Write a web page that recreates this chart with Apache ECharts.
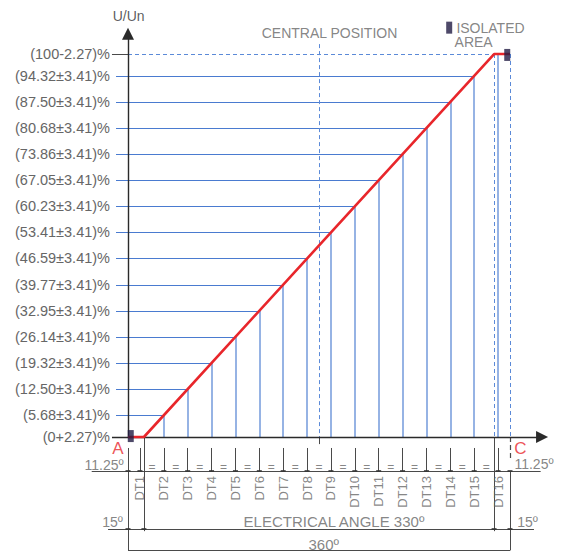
<!DOCTYPE html>
<html>
<head>
<meta charset="utf-8">
<script src="https://cdn.jsdelivr.net/npm/echarts@6/dist/echarts.min.js"></script>
<style>html,body{margin:0;padding:0;background:#fff}#c{width:568px;height:553px}</style>
</head>
<body>
<div id="c"></div>
<script>
// ---- data ----
const tapNames = ['DT1','DT2','DT3','DT4','DT5','DT6','DT7','DT8','DT9','DT10','DT11','DT12','DT13','DT14','DT15','DT16'];
const tapLabels = ['(0+2.27)%','(5.68\u00B13.41)%','(12.50\u00B13.41)%','(19.32\u00B13.41)%','(26.14\u00B13.41)%','(32.95\u00B13.41)%','(39.77\u00B13.41)%','(46.59\u00B13.41)%','(53.41\u00B13.41)%','(60.23\u00B13.41)%','(67.05\u00B13.41)%','(73.86\u00B13.41)%','(80.68\u00B13.41)%','(87.50\u00B13.41)%','(94.32\u00B13.41)%','(100-2.27)%'];
// electrical angle (deg) of each tap line
const tapAngles = [11.25,33.75,56.25,78.75,101.25,123.75,146.25,168.75,191.25,213.75,236.25,258.75,281.25,303.75,326.25,348.75];
// drawn height of each tap level (U/Un scale of the drawing)
const tapLevels = [2.27,7.7,14.2,20.7,27.2,33.7,40.2,46.8,53.3,59.8,66.3,72.8,79.3,85.8,92.3,97.73];
// red characteristic line
const curveAngles = [0,15,345,360];
const curveLevels = [2.27,2.27,97.73,97.73];
// "=" marks between taps
const eqAngles = [22.5,45,67.5,90,112.5,135,157.5,180,202.5,225,247.5,270,292.5,315,337.5];
const centralAngle = 180;
const fullAngle = 360;
const isolatedMarks = [[2.6,2.5],[357.4,97.5]];

// ---- styles ----
const FONT = "'Liberation Sans', Arial, sans-serif";
const GRAY = '#666';
const DARK = '#4a4a4a';
const BLUE = '#4a7bd0';
const LBLUE = '#7ca0de';
const RED = '#e8262b';

const baseLvl = curveLevels[0];
const topLvl = curveLevels[3];

// horizontal tap level lines
const levelLines = [];
for (let k = 1; k < tapLevels.length - 1; k++) {
  levelLines.push({coords: [[-11.3, tapLevels[k]], [tapAngles[k], tapLevels[k]]]});
}
// vertical tap lines (from characteristic down to the angle axis)
const tapLines = [];
for (let k = 1; k < tapAngles.length; k++) {
  tapLines.push({coords: [[tapAngles[k], tapLevels[k]], [tapAngles[k], baseLvl]]});
}
// dashed blue lines
const dashedLines = [
  {coords: [[0, topLvl], [fullAngle, topLvl]]},
  {coords: [[curveAngles[2], topLvl], [curveAngles[2], baseLvl]]},
  {coords: [[fullAngle, topLvl], [fullAngle, baseLvl]]},
  {coords: [[centralAngle, 100.2], [centralAngle, baseLvl]]}
];
// dimension lines
const dimY1 = -6.2, dimY2 = -20.66, dimY3 = -26;
const dimLines = [
  {coords: [[-15.1, topLvl], [0, topLvl]]},
  {coords: [[0, -0.47], [0, dimY3]]},
  {coords: [[curveAngles[1], baseLvl], [curveAngles[1], -21.2]]},
  {coords: [[curveAngles[2], baseLvl], [curveAngles[2], -21.2]]},
  {coords: [[fullAngle, dimY1], [fullAngle, dimY3]]},
  {coords: [[-34.2, dimY1], [388.9, dimY1]]},
  {coords: [[-18.8, dimY2], [382.6, dimY2]]},
  {coords: [[0, dimY3], [fullAngle, dimY3]]},
  {coords: [[centralAngle, baseLvl], [centralAngle, 0.5]]}
];
tapAngles.forEach(a => dimLines.push({coords: [[a, -0.47], [a, dimY1]]}));

const tickPts = [[0, dimY1], [fullAngle, dimY1]].concat(tapAngles.map(a => [a, dimY1]))
  .concat([[0, dimY2], [curveAngles[1], dimY2], [curveAngles[2], dimY2], [fullAngle, dimY2]]);

function txt(x, y, text, opts) {
  return {value: [x, y], label: Object.assign({show: true, formatter: text, position: 'inside',
    color: GRAY, fontSize: 14, fontFamily: FONT}, opts || {})};
}
const annotations = [
  txt(0.6, 107.2, 'U/Un', {color: '#333'}),
  txt(189.9, 103.0, 'CENTRAL POSITION'),
  txt(341.6, 104.3, 'ISOLATED'),
  txt(325.7, 100.7, 'AREA'),
  txt(-9.4, -0.6, 'A', {color: RED, fontSize: 17}),
  txt(369.9, -0.5, 'C', {color: RED, fontSize: 17}),
  txt(-22.6, -4.6, '11.25º'),
  txt(382.6, -4.4, '11.25º'),
  txt(-14.6, -18.8, '15º'),
  txt(376.5, -18.8, '15º'),
  txt(194.1, -18.8, 'ELECTRICAL ANGLE 330º', {fontSize: 15}),
  txt(184.5, -24.4, '360º', {fontSize: 15})
];

const chart = echarts.init(document.getElementById('c'), null, {renderer: 'svg'});
chart.setOption({
  animation: false,
  backgroundColor: '#fff',
  textStyle: {fontFamily: FONT},
  grid: {left: 128, right: 19.8, top: 32.87, bottom: 2.58, containLabel: false},
  xAxis: {type: 'value', min: 0, max: 396, show: false},
  yAxis: {
    type: 'value', min: -26, max: 103,
    axisLine: {show: false}, axisTick: {show: false}, splitLine: {show: false},
    axisLabel: {
      customValues: tapLevels,
      margin: 18, color: GRAY, fontSize: 14.5, fontFamily: FONT,
      formatter: function (v) {
        let best = 0, d = 1e9;
        tapLevels.forEach((l, i) => { if (Math.abs(l - v) < d) { d = Math.abs(l - v); best = i; } });
        return tapLabels[best];
      }
    }
  },
  series: [
    {type: 'lines', coordinateSystem: 'cartesian2d', polyline: false, clip: false, silent: true,
     lineStyle: {color: BLUE, width: 1.2, opacity: 1}, data: levelLines, z: 2},
    {type: 'lines', coordinateSystem: 'cartesian2d', clip: false, silent: true,
     lineStyle: {color: LBLUE, width: 1.6, opacity: 1}, data: tapLines, z: 2},
    {type: 'lines', coordinateSystem: 'cartesian2d', clip: false, silent: true,
     lineStyle: {color: '#5b8ad8', width: 1, type: [4, 3], opacity: 1}, data: dashedLines, z: 2},
    {type: 'lines', coordinateSystem: 'cartesian2d', clip: false, silent: true,
     lineStyle: {color: DARK, width: 1, opacity: 1}, data: dimLines, z: 3},
    {type: 'lines', coordinateSystem: 'cartesian2d', clip: false, silent: true,
     lineStyle: {color: DARK, width: 1.2, type: [5, 3], opacity: 1},
     data: [{coords: [[fullAngle, baseLvl], [fullAngle, -3]]}], z: 3},
    // axes with arrows
    {type: 'lines', coordinateSystem: 'cartesian2d', clip: false, silent: true,
     symbol: ['none', 'triangle'], symbolSize: 12,
     lineStyle: {color: '#2a2a2a', width: 1.4, opacity: 1},
     data: [{coords: [[-15.1, baseLvl], [390.2, baseLvl]]}, {coords: [[0, baseLvl], [0, 102.8]]}], z: 4},
    {type: 'line', data: curveAngles.map((a, i) => [a, curveLevels[i]]), clip: false, silent: true,
     showSymbol: false, symbol: 'none', lineStyle: {color: RED, width: 2.6}, z: 5},
    {type: 'scatter', data: isolatedMarks.concat([[302.7, 104.3]]), symbol: 'rect', symbolSize: [6, 12],
     clip: false, silent: true, itemStyle: {color: '#221c44'}, z: 6},
    {type: 'scatter', data: tickPts, symbol: 'rect', symbolSize: [5, 2], clip: false, silent: true,
     itemStyle: {color: '#333'}, z: 6},
    {type: 'scatter', data: tapAngles.map((a, i) => ({value: [a, -7.45], name: tapNames[i]})),
     symbolSize: 0, clip: false, silent: true,
     label: {show: true, formatter: '{b}', position: 'inside', rotate: 90, align: 'right',
       verticalAlign: 'middle', color: GRAY, fontSize: 13, fontFamily: FONT}, z: 6},
    {type: 'scatter', data: eqAngles.map(a => [a, -5.2]), symbolSize: 0, clip: false, silent: true,
     label: {show: true, formatter: '=', position: 'inside', color: GRAY, fontSize: 12, fontFamily: FONT}, z: 6},
    {type: 'scatter', data: annotations, symbolSize: 0, clip: false, silent: true, z: 7}
  ]
});
</script>
</body>
</html>
